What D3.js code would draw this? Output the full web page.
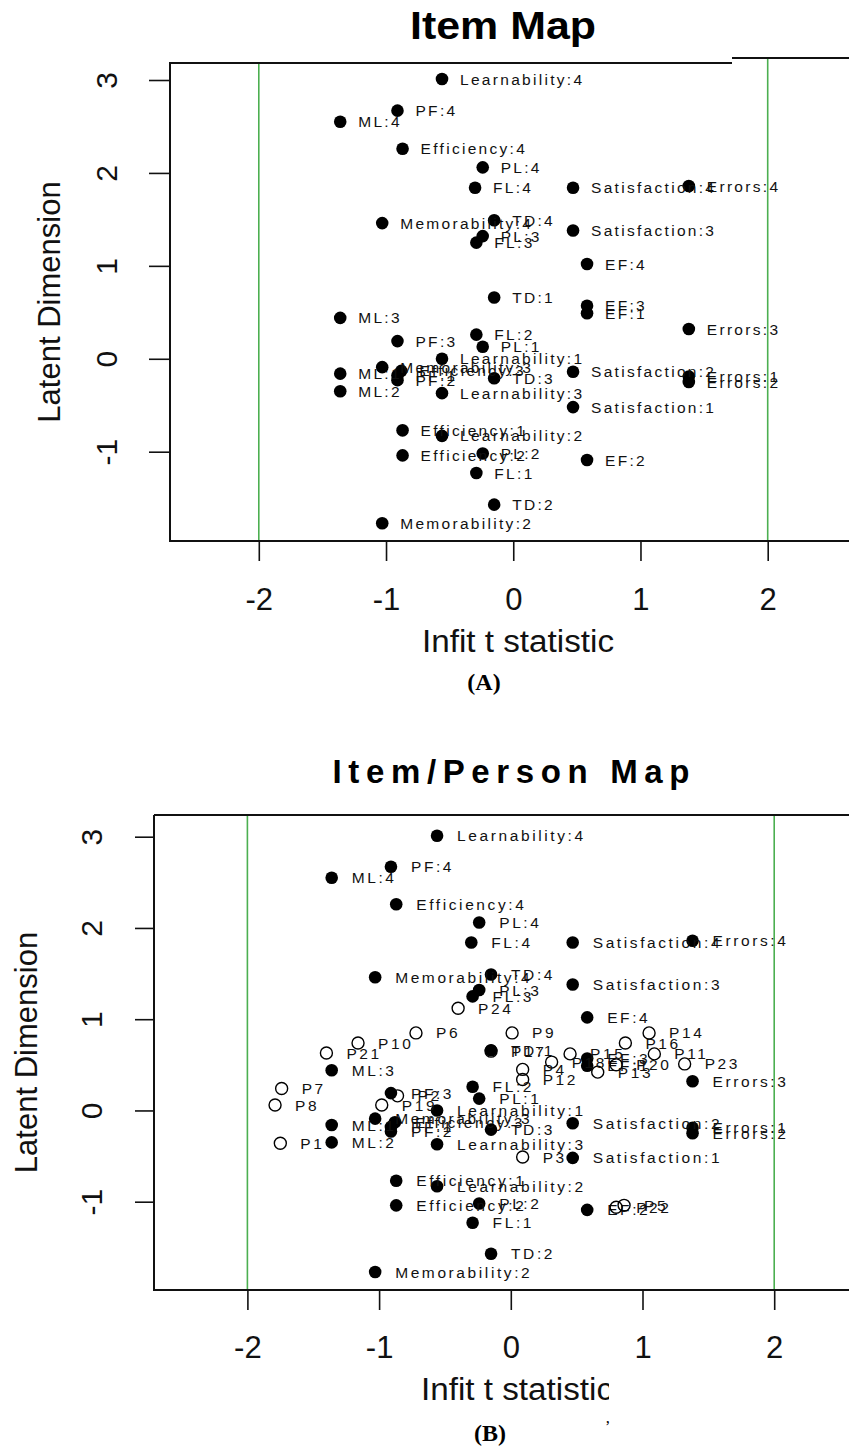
<!DOCTYPE html>
<html>
<head>
<meta charset="utf-8">
<script src="https://cdn.jsdelivr.net/npm/d3@7"></script>
<style>
  body { margin: 0; background: #fff; }
  svg { display: block; }
</style>
</head>
<body>
<div id="chart"></div>
<script>
'use strict'

// item estimates: infit t (x) and location on latent dimension (y)
var itemNames = ["Learnability:4","PF:4","ML:4","Efficiency:4","PL:4","FL:4","Satisfaction:4","Errors:4",
    "Memorability:4","TD:4","PL:3","FL:3","Satisfaction:3","EF:4","TD:1","EF:3","EF:1","ML:3","Errors:3",
    "FL:2","PF:3","PL:1","Learnability:1","Memorability:3","ML:1","Efficiency:3","PF:1","PF:2","TD:3",
    "Satisfaction:2","Errors:1","Errors:2","ML:2","Learnability:3","Satisfaction:1","Efficiency:1",
    "Learnability:2","Efficiency:2","PL:2","EF:2","FL:1","TD:2","Memorability:2"];
var itemInfit = [-0.56,-0.91,-1.36,-0.87,-0.24,-0.30,0.47,1.38,
    -1.03,-0.15,-0.24,-0.29,0.47,0.58,-0.15,0.58,0.58,-1.36,1.38,
    -0.29,-0.91,-0.24,-0.56,-1.03,-1.36,-0.88,-0.91,-0.91,-0.15,
    0.47,1.38,1.38,-1.36,-0.56,0.47,-0.87,
    -0.56,-0.87,-0.24,0.58,-0.29,-0.15,-1.03];
var itemMeasure = [3.01,2.67,2.55,2.26,2.06,1.84,1.84,1.86,
    1.46,1.49,1.32,1.25,1.38,1.02,0.66,0.57,0.49,0.44,0.32,
    0.26,0.19,0.13,0.00,-0.09,-0.16,-0.13,-0.18,-0.23,-0.21,
    -0.14,-0.19,-0.25,-0.35,-0.37,-0.52,-0.77,
    -0.83,-1.04,-1.02,-1.09,-1.23,-1.57,-1.77];

// person estimates (panel B only)
var personNames = ["P24","P6","P9","P14","P10","P16","P21","P17","P15","P11","P18","P20",
    "P23","P13","P4","P12","P7","P8","P19","P2","P1","P3","P5","P22"];
var personInfit = [-0.40,-0.72,0.01,1.05,-1.16,0.87,-1.40,-0.15,0.45,1.09,0.31,0.80,
    1.32,0.66,0.09,0.09,-1.74,-1.79,-0.98,-0.86,-1.75,0.09,0.86,0.80];
var personMeasure = [1.12,0.85,0.85,0.85,0.74,0.74,0.63,0.65,0.62,0.62,0.53,0.50,
    0.51,0.42,0.45,0.34,0.24,0.06,0.06,0.16,-0.36,-0.51,-1.04,-1.06];

var xTicks = [-2,-1,0,1,2];
var yTicks = [-1,0,1,2,3];
var fitBounds = [-2,2];
var xTitle = "Infit t statistic";
var yTitle = "Latent Dimension";

var itemMap = (function(){
    var self = {},
    _svg,
    SANS = "'Liberation Sans', Arial, sans-serif",
    SERIF = "'Liberation Serif', 'Times New Roman', serif",
    GREEN = "#4caf50",

    //R style tick text: plain hyphen, no decimals
    tickText = function(d){ return d < 0 ? "-" + Math.abs(d) : String(d); },

    //draws one panel, layout values are in pixels
    drawPanel = function(p, withPersons){
        var x = d3.scaleLinear().domain([-2,2]).range(p.xr);
        var y = d3.scaleLinear().domain([-1,3]).range(p.yr);
        var g = _svg.append("g");

        g.append("text")
            .attr("x", p.titleX).attr("y", p.titleY)
            .attr("text-anchor", "middle")
            .attr("font-family", SANS).attr("font-weight", "bold")
            .attr("font-size", p.titleSize + "px")
            .attr("textLength", p.titleLen)
            .attr("lengthAdjust", p.titleAdjust)
            .text(p.title);

        // green infit bounds
        g.selectAll(".bound")
            .data(fitBounds)
            .enter()
            .append("line")
            .attr("x1", function(d){ return x(d); })
            .attr("x2", function(d){ return x(d); })
            .attr("y1", function(d){ return d > 0 ? p.topRight : p.top; })
            .attr("y2", p.bottom)
            .attr("stroke", GREEN).attr("stroke-width", 1.6);

        // box (right side runs off the page)
        g.append("path")
            .attr("fill", "none").attr("stroke", "#111").attr("stroke-width", 2)
            .attr("d", "M" + p.breakX + "," + p.top + "H" + p.left + "V" + p.bottom + "H" + 860 +
                "M" + p.breakX + "," + p.topRight + "H" + 860);

        var ax = g.append("g")
            .attr("transform", "translate(0," + p.bottom + ")")
            .call(d3.axisBottom(x).tickValues(xTicks).tickSizeInner(20).tickSizeOuter(0)
                .tickFormat(tickText));
        ax.select(".domain").remove();
        ax.selectAll("line").attr("stroke", "#111").attr("stroke-width", 1.6);
        ax.selectAll("text")
            .attr("y", p.xLabelBase - p.bottom).attr("dy", null)
            .attr("font-family", SANS).attr("font-size", "31px").attr("fill", "#111");

        var ay = g.append("g")
            .attr("transform", "translate(" + p.left + ",0)")
            .call(d3.axisLeft(y).tickValues(yTicks).tickSizeInner(p.yTickLen).tickSizeOuter(0)
                .tickFormat(tickText));
        ay.select(".domain").remove();
        ay.selectAll("line").attr("stroke", "#111").attr("stroke-width", 1.6);
        ay.selectAll("text")
            .attr("x", null).attr("dy", null)
            .attr("text-anchor", "middle")
            .attr("transform", "translate(" + (p.yLabelBase - p.left) + ",0) rotate(-90)")
            .attr("font-family", SANS).attr("font-size", "30px").attr("fill", "#111");

        // axis titles
        var clipId = "clip" + p.id;
        g.append("clipPath").attr("id", clipId)
            .append("rect").attr("x", 0).attr("y", p.xTitleBase - 40)
            .attr("width", p.xTitleClip).attr("height", 60);
        g.append("text")
            .attr("x", p.xTitleX).attr("y", p.xTitleBase)
            .attr("text-anchor", "middle")
            .attr("clip-path", "url(#" + clipId + ")")
            .attr("font-family", SANS).attr("font-size", "31px").attr("fill", "#111")
            .attr("textLength", 192).attr("lengthAdjust", "spacingAndGlyphs")
            .text(xTitle);
        g.append("text")
            .attr("transform", "translate(" + p.yTitleBase + "," + ((p.top + p.bottom) / 2) + ") rotate(-90)")
            .attr("text-anchor", "middle")
            .attr("font-family", SANS).attr("font-size", "31px").attr("fill", "#111")
            .text(yTitle);

        g.append("text")
            .attr("x", p.tagX).attr("y", p.tagY)
            .attr("text-anchor", "middle")
            .attr("font-family", SERIF).attr("font-weight", "bold").attr("font-size", "24px")
            .text(p.tag);

        // items
        var items = itemNames.map(function(n, i){ return {name: n, fit: itemInfit[i], loc: itemMeasure[i]}; });
        g.selectAll(".item")
            .data(items)
            .enter()
            .append("circle")
            .attr("class", "item")
            .attr("cx", function(d){ return x(d.fit); })
            .attr("cy", function(d){ return y(d.loc); })
            .attr("r", 6.3)
            .attr("fill", "#000");
        g.selectAll(".itemLabel")
            .data(items)
            .enter()
            .append("text")
            .attr("x", function(d){ return x(d.fit) + p.labelOff; })
            .attr("y", function(d){ return y(d.loc); })
            .attr("dy", "0.36em")
            .attr("font-family", SANS).attr("font-size", "15.5px")
            .attr("letter-spacing", p.spacing)
            .attr("fill", "#111")
            .text(function(d){ return d.name; });

        if (!withPersons) return;

        var persons = personNames.map(function(n, i){ return {name: n, fit: personInfit[i], loc: personMeasure[i]}; });
        g.selectAll(".person")
            .data(persons)
            .enter()
            .append("circle")
            .attr("cx", function(d){ return x(d.fit); })
            .attr("cy", function(d){ return y(d.loc); })
            .attr("r", 6)
            .attr("fill", "none")
            .attr("stroke", "#000").attr("stroke-width", 1.4);
        g.selectAll(".personLabel")
            .data(persons)
            .enter()
            .append("text")
            .attr("x", function(d){ return x(d.fit) + p.labelOff; })
            .attr("y", function(d){ return y(d.loc); })
            .attr("dy", "0.36em")
            .attr("font-family", SANS).attr("font-size", "15.5px")
            .attr("letter-spacing", p.spacing)
            .attr("fill", "#111")
            .text(function(d){ return d.name; });
    };

    self.init = function(placeHolder){
        _svg = d3.select(placeHolder)
            .append("svg")
            .attr("width", 849)
            .attr("height", 1447);
        _svg.append("rect").attr("width", 849).attr("height", 1447).attr("fill", "#fff");

        drawPanel({
            id: "A", title: "Item Map", titleX: 503, titleY: 39, titleSize: 38, titleLen: 186,
            titleAdjust: "spacingAndGlyphs",
            left: 170, top: 63, topRight: 58, breakX: 732, bottom: 541,
            xr: [258.8, 767.7], yr: [451.7, 80],
            xLabelBase: 610, yLabelBase: 117, yTickLen: 21,
            xTitleX: 518, xTitleBase: 652, xTitleClip: 849, yTitleBase: 60,
            tag: "(A)", tagX: 484, tagY: 690,
            labelOff: 18, spacing: "2.3px"
        }, false);

        drawPanel({
            id: "B", title: "Item/Person Map", titleX: 511, titleY: 783, titleSize: 33, titleLen: 357,
            titleAdjust: "spacing",
            left: 154, top: 815, topRight: 815, breakX: 154, bottom: 1290,
            xr: [247.4, 774.2], yr: [1201.7, 836.7],
            xLabelBase: 1358, yLabelBase: 102, yTickLen: 19,
            xTitleX: 517, xTitleBase: 1400, xTitleClip: 609, yTitleBase: 37,
            tag: "(B)", tagX: 490, tagY: 1441,
            labelOff: 20, spacing: "2.6px"
        }, true);

        // stray scan mark beside (B)
        _svg.append("text")
            .attr("x", 605).attr("y", 1432)
            .attr("font-family", SERIF).attr("font-size", "16px")
            .text("\u2019");
    };

    return self;
}());

itemMap.init("#chart");
</script>
</body>
</html>
